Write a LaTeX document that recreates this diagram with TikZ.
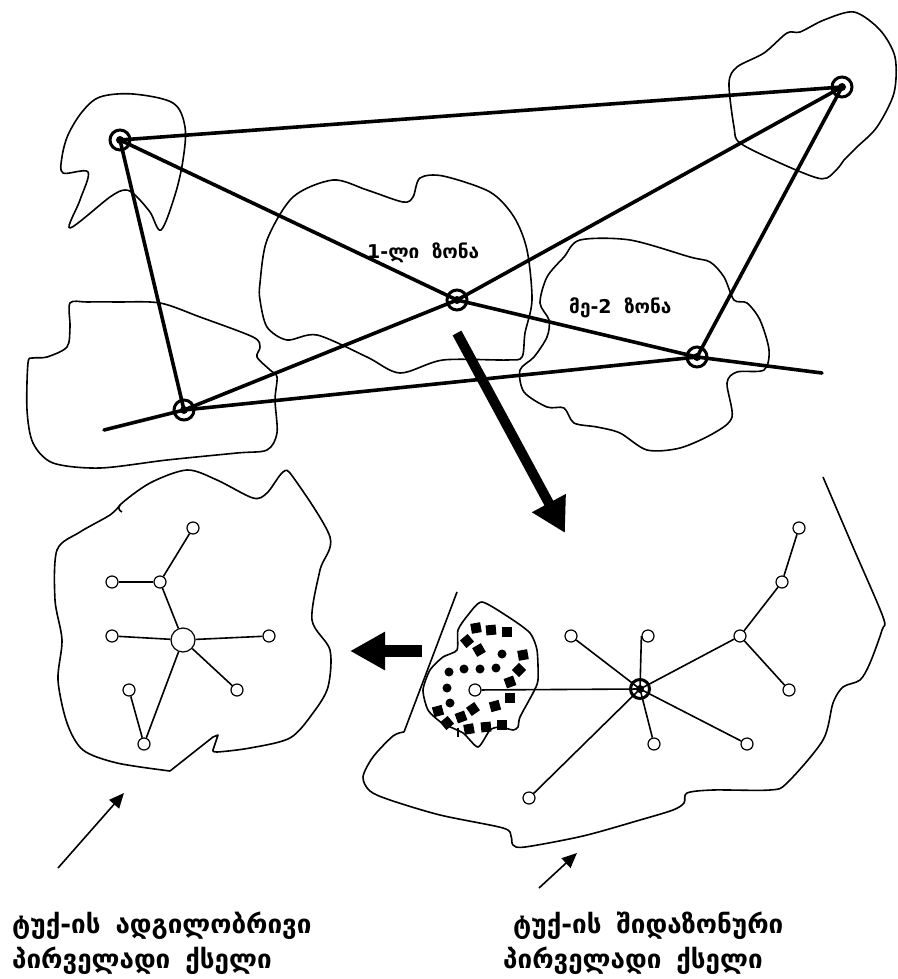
\documentclass[tikz,border=0pt]{standalone}
\usepackage{fontspec}
\newfontfamily\geo{DejaVu Sans}
\usetikzlibrary{arrows.meta}
\tikzset{
  blob/.style={draw, line width=1.6pt, line join=round},
  trunk/.style={draw, line width=3.6pt, line cap=round},
  bignode/.style={circle, draw, line width=3pt, minimum size=20pt, inner sep=0pt},
  hubnode/.style={circle, draw, line width=3pt, minimum size=19pt, inner sep=0pt},
  leaf/.style={circle, draw, fill=white, line width=1.2pt, minimum size=12pt, inner sep=0pt},
  bigleaf/.style={circle, draw, fill=white, line width=1.2pt, minimum size=24pt, inner sep=0pt},
  netline/.style={draw, line width=1.6pt},
  zonelbl/.style={font=\geo\bfseries\fontsize{19}{23}\selectfont, anchor=base west, inner sep=0pt},
  caplbl/.style={font=\geo\bfseries\fontsize{26}{31}\selectfont, anchor=base west, inner sep=0pt},
  pointer/.style={draw, line width=1.6pt, -{Triangle[length=15pt,width=13pt]}},
}
\begin{document}
\begin{tikzpicture}[x=1pt,y=-1pt]
\fill[white] (0,0) rectangle (897,979);
\useasboundingbox (0,0) rectangle (897,979);

% ---------- zone blobs ----------
\draw[blob] plot[smooth cycle, tension=0.55] coordinates {(68,135) (82,112) (100,97) (133,94) (173,103) (185,127) (183,160) (175,195) (161,230) (150,212) (135,195) (125,190) (110,197) (70,228) (80,200) (88,172) (63,173) (62,157)};
\draw[blob] plot[smooth cycle, tension=0.5] coordinates {(70,303) (87,302) (117,302) (160,303) (200,317) (253,337) (260,347) (257,357) (270,370) (277,377) (275,400) (277,433) (267,450) (237,453) (167,460) (100,468) (53,463) (33,443) (27,410) (28,363) (33,358) (47,357) (67,347) (70,327)};
\draw[blob] plot[smooth cycle, tension=0.5] coordinates {(260,283) (267,240) (293,197) (333,180) (367,190) (403,202) (413,197) (420,178) (443,176) (490,192) (514,217) (527,250) (532,300) (525,333) (522,357) (507,360) (443,360) (400,373) (367,357) (317,335) (287,340) (267,327) (260,300)};
\draw[blob] plot[smooth cycle, tension=0.5] coordinates {(580,240) (630,240) (690,257) (710,262) (724,277) (734,300) (747,303) (760,320) (769,350) (764,370) (737,372) (727,383) (732,417) (714,433) (680,448) (647,450) (620,433) (597,427) (574,423) (564,408) (547,407) (524,392) (520,370) (534,357) (547,337) (549,320) (540,303) (547,277) (564,257)};
\draw[blob] plot[smooth cycle, tension=0.5] coordinates {(854,12) (880,30) (895,57) (894,93) (877,127) (857,147) (844,160) (839,167) (827,178) (814,177) (780,163) (740,143) (734,127) (729,83) (737,67) (764,53) (787,33) (800,32) (824,20)};

% ---------- trunk network ----------
\node[bignode] (A) at (120,140) {};
\node[bignode] (B) at (184,410) {};
\node[bignode] (C) at (457,300) {};
\node[bignode] (D) at (842,87) {};
\node[bignode] (E) at (697,357) {};
\coordinate (Bend) at (104,430);
\coordinate (Eend) at (822,373);
\foreach \n in {A,B,C,D,E} \fill (\n.center) circle (4pt);
\draw[trunk] (A.center) -- (D.center);
\draw[trunk] (A.center) -- (C.center);
\draw[trunk] (A.center) -- (B.center);
\draw[trunk] (Bend) -- (B.center) -- (C.center) -- (D.center);
\draw[trunk] (C.center) -- (E.center) -- (Eend);
\draw[trunk] (B.center) -- (E.center);
\draw[trunk] (D.center) -- (E.center);

\node[zonelbl] (z1) at (367,258) {1-ლი\hspace{6pt} ზონა};
\node[zonelbl] (z2) at (569,313) {მე-2\hspace{6pt} ზონა};

% ---------- big arrows ----------
\coordinate (ba1) at (457,333);
\coordinate (ba2) at (565,533);
\draw[line width=10pt, -{Triangle[length=34pt,width=36pt]}] (ba1) -- (ba2);
\coordinate (la1) at (422,651);
\coordinate (la2) at (350,651);
\draw[line width=12pt, -{Triangle[length=35pt,width=36pt]}] (la1) -- (la2);

% ---------- local network (left) ----------
\draw[blob] plot[smooth, tension=0.5] coordinates {(213,750) (217,752) (250,748) (290,738) (313,713) (328,687) (330,650) (312,620) (320,570) (330,537) (293,477) (283,472) (267,493) (253,498) (217,480) (187,470) (150,483) (120,505) (122,512)};
\draw[blob] plot[smooth, tension=0.5] coordinates {(120,505) (110,515) (80,532) (57,550) (55,600) (62,640) (58,680) (67,723) (83,750) (117,763) (170,771)};
\draw[blob] (170,771) -- (213,737) -- (218,735) -- (213,750);

\node[bigleaf] (c0) at (183,640) {};
\node[leaf] (m1) at (193,528) {};
\node[leaf] (m2) at (160,582) {};
\node[leaf] (m3) at (112,582) {};
\node[leaf] (m4) at (112,636) {};
\node[leaf] (m5) at (269,636) {};
\node[leaf] (m6) at (237,690) {};
\node[leaf] (m7) at (129,690) {};
\node[leaf] (m8) at (144,744) {};
\draw[netline] (m1) -- (m2);
\draw[netline] (m3) -- (m2);
\draw[netline] (m2) -- (c0);
\draw[netline] (m4) -- (c0);
\draw[netline] (c0) -- (m5);
\draw[netline] (c0) -- (m6);
\draw[netline] (c0) -- (m8);
\draw[netline] (m7) -- (m8);

% ---------- intra-zone network (right) ----------
\draw[blob] (457,592) -- (404,732);
\draw[blob] plot[smooth, tension=0.5] coordinates {(404,732) (393,736) (373,757) (363,777) (370,791) (390,800) (440,815) (503,828) (511,836) (513,845) (525,847) (583,836) (640,820) (673,810) (684,803) (687,793) (713,790) (770,790) (787,783) (823,740) (833,703) (843,687) (860,680) (870,663) (882,630) (883,617) (853,547) (823,477)};

% inner small blob
\draw[blob] plot[smooth cycle, tension=0.4] coordinates {(482,602) (510,618) (530,633) (537,650) (538,680) (533,693) (520,717) (518,727) (513,730) (500,727) (490,730) (478,747) (463,733) (442,723) (428,710) (423,690) (430,670) (443,657) (457,650) (458,630) (468,615)};
\draw[line width=1.3pt] (458,728) -- (458,737);
\foreach \p in {(502,654),(449,672),(464,669),(480,669),(496,668),(447,688),(450,703)}
  \fill \p circle (4.5pt);
\foreach \p/\r in {(476,628)/10,(491,630)/5,(507,632)/0,(467,641)/40,(479,650)/30,(523,655)/10,(519,670)/45,(510,682)/20,(510,698)/0,(495,706)/15,(473,709)/35,(461,717)/20,(438,711)/15,(447,723)/40,(469,729)/10,(486,727)/5,(502,725)/0}
  \fill[rotate around={\r:\p}] \p ++(-5,-5) rectangle ++(10,10);

\node[hubnode] (H) at (640,689) {};
\node[leaf] (n1) at (571,636) {};
\node[leaf] (n2) at (648,636) {};
\node[leaf] (n3) at (740,636) {};
\node[leaf] (n4) at (782,582) {};
\node[leaf] (n5) at (799,528) {};
\node[leaf] (n6) at (789,690) {};
\node[leaf] (n7) at (747,744) {};
\node[leaf] (n8) at (654,744) {};
\node[leaf] (n9) at (529,798) {};
\node[leaf] (n10) at (475,690) {};
\draw[netline] (H.center) -- (n1);
\draw[netline] (H.center) -- (n2.west);
\draw[netline] (H.center) -- (n3);
\draw[netline] (n3) -- (n4);
\draw[netline] (n4) -- (n5);
\draw[netline] (n3) -- (n6);
\draw[netline] (H.center) -- (n7);
\draw[netline] (H.center) -- (n8);
\draw[netline] (H.center) -- (n9);
\draw[netline] (H.center) -- (n10);
\fill (H.center) circle (4pt);

% ---------- captions ----------
\coordinate (p1s) at (58,868);
\coordinate (p1e) at (124,793);
\draw[pointer] (p1s) -- (p1e);
\coordinate (p2s) at (539,888);
\coordinate (p2e) at (577,853);
\draw[pointer] (p2s) -- (p2e);

\node[caplbl] (t1) at (12,933) {ტუქ-ის\hspace{6pt} ადგილობრივი};
\node[caplbl] (t2) at (12,968) {პირველადი\hspace{6pt} ქსელი};
\node[caplbl] (t3) at (513,933) {ტუქ-ის\hspace{6pt} შიდაზონური};
\node[caplbl] (t4) at (503,968) {პირველადი\hspace{6pt} ქსელი};
\end{tikzpicture}
\end{document}
